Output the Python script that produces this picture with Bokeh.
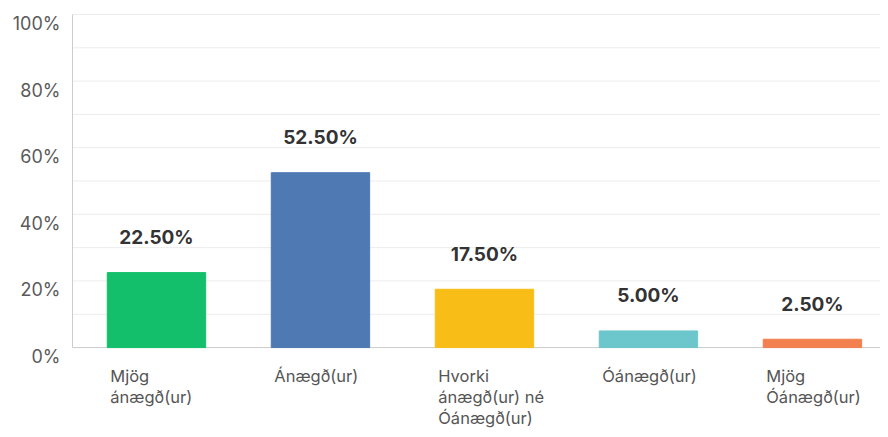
from bokeh.plotting import figure
from bokeh.models import Range1d, ColumnDataSource
from bokeh.core.properties import value
from bokeh.embed import file_html
from bokeh.resources import INLINE

categories = ["Mjög\nánægð(ur)", "Ánægð(ur)", "Hvorki\nánægð(ur) né\nÓánægð(ur)",
              "Óánægð(ur)", "Mjög\nÓánægð(ur)"]
percent = [22.5, 52.5, 17.5, 5.0, 2.5]
colors = ["#13BF6B", "#4F79B3", "#F8BE17", "#6CC7CC", "#F2814F"]
y_ticks = [0, 20, 40, 60, 80, 100]
grid_levels = [10, 20, 30, 40, 50, 60, 70, 80, 90, 100]
y_tick_labels = ["0%", "20%", "40%", "60%", "80%", "100%"]

BAR_W = 0.6
FONT = "Inter"
# visible frame (the whole canvas is used as plotting frame so text may sit in the margins)
X_VIEW = (-0.951, 4.415)
Y_VIEW = (-24.6, 104.2)
X_AXIS_START = -0.512   # where the y-axis line sits
Y_MIN, Y_MAX = 0, 100

idx = list(range(len(categories)))
left_edges = [i - BAR_W / 2 for i in idx]
labels = [f"{v:.2f}%" for v in percent]

src = ColumnDataSource(dict(x=idx, top=percent, color=colors, label=labels))

p = figure(width=880, height=429, output_backend="svg", toolbar_location=None,
           x_range=Range1d(*X_VIEW), y_range=Range1d(*Y_VIEW),
           min_border=0)
p.outline_line_color = None
p.background_fill_color = "white"
p.border_fill_color = "white"
p.xaxis.visible = False
p.yaxis.visible = False
p.grid.visible = False

# grid lines
p.segment(x0=[X_AXIS_START] * len(grid_levels), x1=[X_VIEW[1]] * len(grid_levels),
          y0=grid_levels, y1=grid_levels, line_color="#ececec", line_width=1)
# axis lines
p.segment(x0=[X_AXIS_START, X_AXIS_START], x1=[X_AXIS_START, X_VIEW[1]],
          y0=[Y_MIN, Y_MIN], y1=[Y_MAX, Y_MIN], line_color="#cccccc", line_width=1)

p.vbar(x="x", top="top", width=BAR_W, color="color", source=src)
p.text(x="x", y="top", text="label", source=src, y_offset=-35,
       text_align="center", text_baseline="middle",
       text_font=value(FONT), text_font_size="19px", text_font_style="bold",
       text_color="#333333")

# y tick labels
p.text(x=[X_AXIS_START] * len(y_ticks), y=y_ticks, text=y_tick_labels,
       x_offset=-12, y_offset=9, text_align="right", text_baseline="middle",
       text_font=value(FONT), text_font_size="18px", text_color="#5a5a5a")

# x category labels
p.text(x=left_edges, y=[0] * len(left_edges), text=categories,
       x_offset=3, y_offset=18, text_align="left", text_baseline="top",
       text_line_height=1.05,
       text_font=value(FONT), text_font_size="16.5px", text_color="#555555")

open("out.html", "w").write(file_html(p, INLINE))
